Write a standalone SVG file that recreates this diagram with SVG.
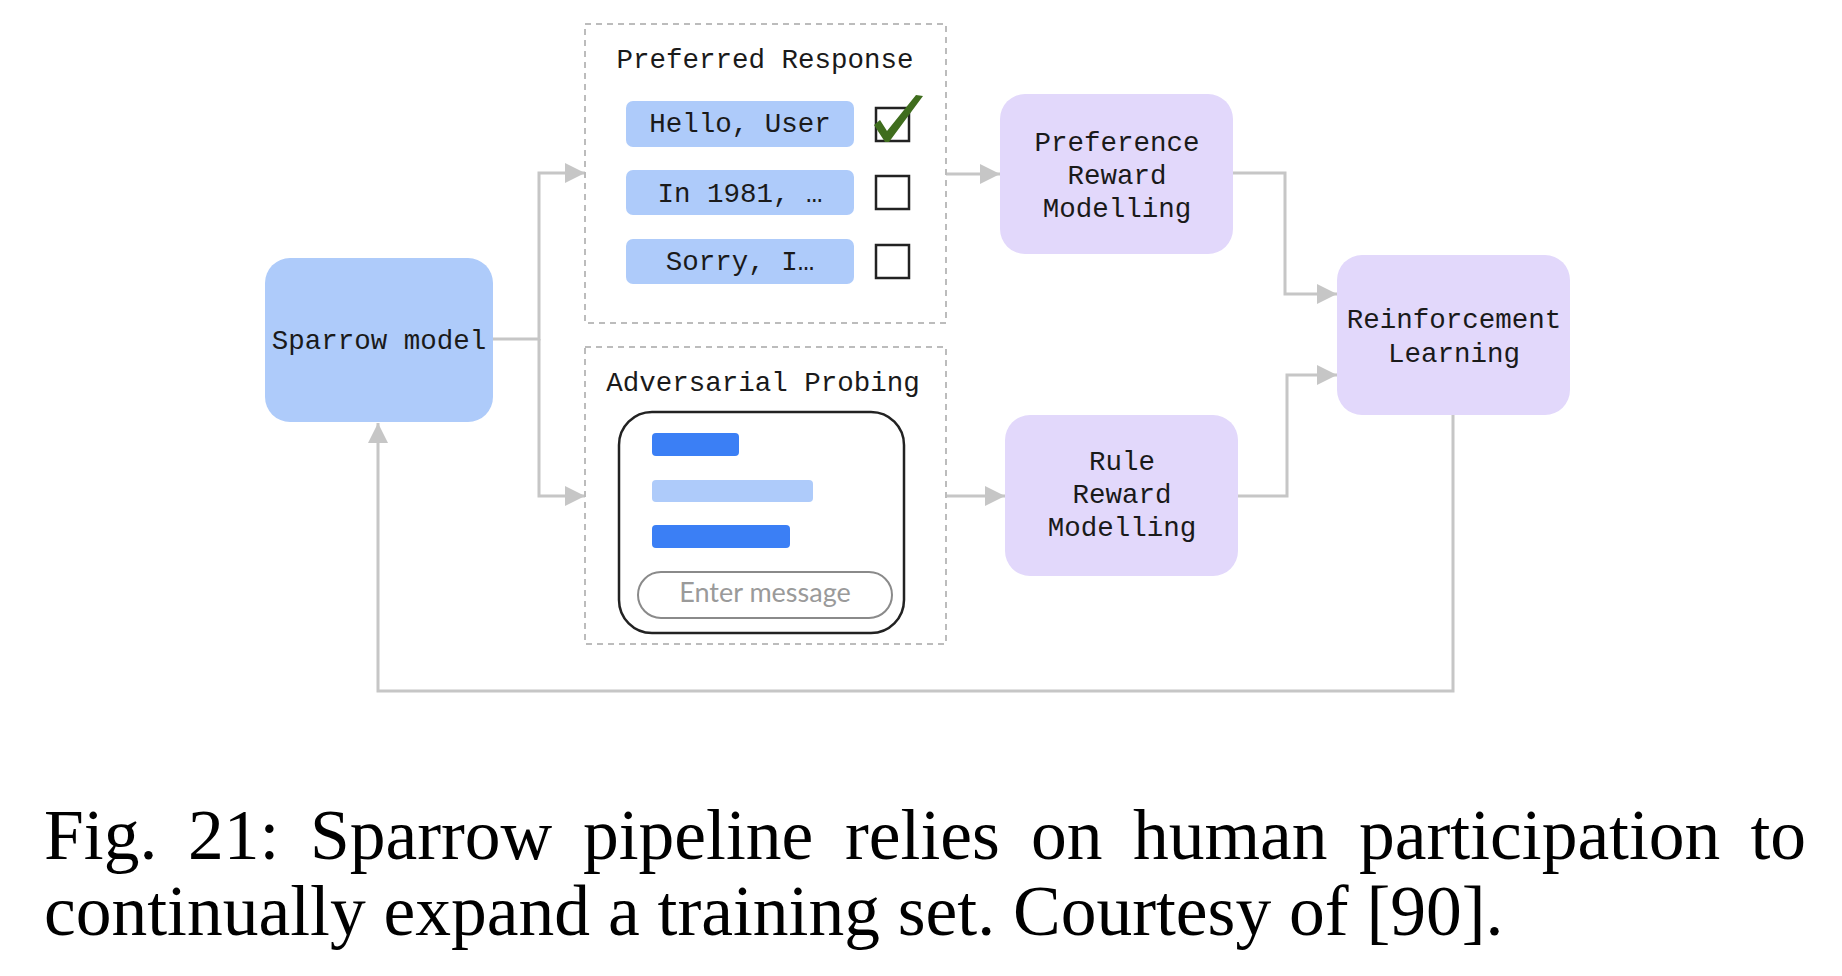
<svg xmlns="http://www.w3.org/2000/svg" width="1842" height="976" viewBox="0 0 1842 976">
<style>
.mono{font-family:"Liberation Mono","DejaVu Sans Mono",monospace;font-size:27.5px;fill:#1a1a1a;text-anchor:middle}
.blue{fill:#aecbfa}
.lav{fill:#e2d8fb}
.dash{fill:none;stroke:#bcbcbc;stroke-width:2;stroke-dasharray:6 5}
.conn{fill:none;stroke:#c6c6c6;stroke-width:3}
.box{fill:none;stroke:#222;stroke-width:2.5}
.cap{font-family:"Liberation Serif","Times New Roman",serif;font-size:71.5px;fill:#000}
</style>
<defs>
<marker id="arr" viewBox="0 0 20 20" refX="20" refY="10" markerWidth="20" markerHeight="20" markerUnits="userSpaceOnUse" orient="auto">
<path d="M0 0 L20 10 L0 20 Z" fill="#c6c6c6"/>
</marker>
</defs>
<rect width="1842" height="976" fill="#fff"/>

<g id="connectors">
<path class="conn" d="M493 339 H539 V173 H585" marker-end="url(#arr)"/>
<path class="conn" d="M539 339 V496 H585" marker-end="url(#arr)"/>
<path class="conn" d="M946 174 H1000" marker-end="url(#arr)"/>
<path class="conn" d="M946 496 H1005" marker-end="url(#arr)"/>
<path class="conn" d="M1233 173 H1285 V294 H1337" marker-end="url(#arr)"/>
<path class="conn" d="M1238 496 H1287 V375 H1337" marker-end="url(#arr)"/>
<path class="conn" d="M1453 415 V691 H378 V423" marker-end="url(#arr)"/>
</g>

<g id="sparrow">
<rect class="blue" x="265" y="258" width="228" height="164" rx="25"/>
<text class="mono" x="379" y="349">Sparrow model</text>
</g>

<g id="preferred-response">
<rect class="dash" x="585" y="24" width="361" height="299"/>
<text class="mono" x="765" y="68">Preferred Response</text>
<rect class="blue" x="626" y="101" width="228" height="46" rx="7"/>
<text class="mono" x="740" y="132">Hello, User</text>
<rect class="blue" x="626" y="170" width="228" height="45" rx="7"/>
<text class="mono" x="740" y="202">In 1981, …</text>
<rect class="blue" x="626" y="239" width="228" height="45" rx="7"/>
<text class="mono" x="740" y="270">Sorry, I…</text>
<rect class="box" x="876" y="108" width="33" height="33"/>
<rect class="box" x="876" y="176" width="33" height="33"/>
<rect class="box" x="876" y="245" width="33" height="33"/>
<path d="M874 125 L880 120 L887 131 L916 95 L923 96 L889 142 L885 142 Z" fill="#3f6d1d"/>
</g>

<g id="adversarial-probing">
<rect class="dash" x="585" y="347" width="361" height="297"/>
<text class="mono" x="763" y="391">Adversarial Probing</text>
<rect class="box" x="619" y="412" width="285" height="221" rx="33"/>
<rect x="652" y="433" width="87" height="23" rx="4" fill="#3b7ff5"/>
<rect x="652" y="480" width="161" height="22" rx="4" fill="#aecbfa"/>
<rect x="652" y="525" width="138" height="23" rx="4" fill="#3b7ff5"/>
<rect x="638" y="572" width="254" height="46" rx="23" fill="none" stroke="#8a8a8a" stroke-width="2"/>
<text x="765" y="602" font-family="Lato,'Open Sans',sans-serif" font-size="27" fill="#9a9a9a" text-anchor="middle">Enter message</text>
</g>

<g id="preference-reward-modelling">
<rect class="lav" x="1000" y="94" width="233" height="160" rx="25"/>
<text class="mono" x="1117" y="151">Preference</text>
<text class="mono" x="1117" y="184">Reward</text>
<text class="mono" x="1117" y="217">Modelling</text>
</g>

<g id="rule-reward-modelling">
<rect class="lav" x="1005" y="415" width="233" height="161" rx="25"/>
<text class="mono" x="1122" y="470">Rule</text>
<text class="mono" x="1122" y="503">Reward</text>
<text class="mono" x="1122" y="536">Modelling</text>
</g>

<g id="reinforcement-learning">
<rect class="lav" x="1337" y="255" width="233" height="160" rx="25"/>
<text class="mono" x="1454" y="328">Reinforcement</text>
<text class="mono" x="1454" y="362">Learning</text>
</g>

<g id="caption">
<text class="cap" y="859"><tspan x="44">Fig.</tspan><tspan x="188">21:</tspan><tspan x="310">Sparrow</tspan><tspan x="583">pipeline</tspan><tspan x="845">relies</tspan><tspan x="1031">on</tspan><tspan x="1133">human</tspan><tspan x="1359">participation</tspan><tspan x="1806" text-anchor="end">to</tspan></text>
<text class="cap" x="44" y="935">continually expand a training set. Courtesy of [90].</text>
</g>
</svg>
